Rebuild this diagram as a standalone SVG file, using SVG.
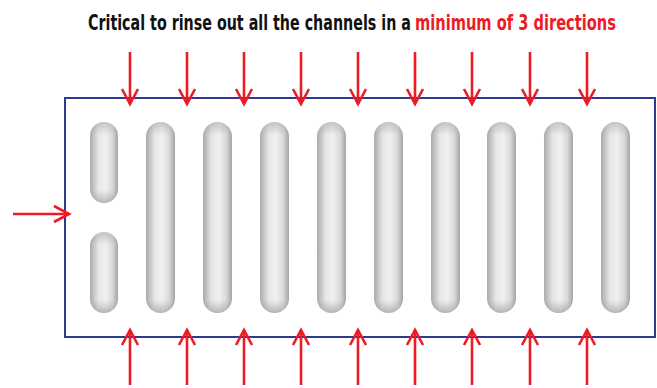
<svg xmlns="http://www.w3.org/2000/svg" width="657" height="388" viewBox="0 0 657 388">
<style>
.arr{stroke:#ed1c24;stroke-width:2.6;fill:none;marker-end:url(#ah)}
.ch{fill:url(#g)}
.vl{fill:url(#vl)}
.vs{fill:url(#vs)}
.t{font-family:"DejaVu Sans Condensed","Liberation Sans",sans-serif;font-weight:bold;font-size:21px}
</style>
<defs>
<linearGradient id="g" x1="0" y1="0" x2="1" y2="0">
<stop offset="0" stop-color="#a9aaac"/>
<stop offset="0.3" stop-color="#e6e6e6"/>
<stop offset="0.55" stop-color="#f1f1f1"/>
<stop offset="0.8" stop-color="#d9d9da"/>
<stop offset="1" stop-color="#a3a4a6"/>
</linearGradient>
<linearGradient id="vl" x1="0" y1="0" x2="0" y2="1">
<stop offset="0" stop-color="#9a9a9c" stop-opacity="0.5"/>
<stop offset="0.07" stop-color="#9a9a9c" stop-opacity="0"/>
<stop offset="0.93" stop-color="#9a9a9c" stop-opacity="0"/>
<stop offset="1" stop-color="#8e8e90" stop-opacity="0.6"/>
</linearGradient>
<linearGradient id="vs" x1="0" y1="0" x2="0" y2="1">
<stop offset="0" stop-color="#9a9a9c" stop-opacity="0.5"/>
<stop offset="0.16" stop-color="#9a9a9c" stop-opacity="0"/>
<stop offset="0.84" stop-color="#9a9a9c" stop-opacity="0"/>
<stop offset="1" stop-color="#8e8e90" stop-opacity="0.6"/>
</linearGradient>
<marker id="ah" markerUnits="userSpaceOnUse" markerWidth="20" markerHeight="20" viewBox="-16 -10 18 20" refX="0" refY="0" orient="auto">
<path d="M-15,-8 L0,0 L-15,8" fill="none" stroke="#ed1c24" stroke-width="2.6"/>
</marker>
</defs>
<g id="title">
<text class="t" transform="translate(88,30) scale(0.744,1)" x="0" y="0" fill="#111" textLength="434" lengthAdjust="spacingAndGlyphs">Critical to rinse out all the channels in a</text>
<text class="t" transform="translate(415,30) scale(0.776,1)" x="0" y="0" fill="#ed1c24" textLength="259" lengthAdjust="spacingAndGlyphs">minimum of 3 directions</text>
</g>
<g id="frame"><rect x="65" y="98" width="590" height="239" fill="#fff" stroke="#2e3a8f" stroke-width="2"/></g>
<g id="channels">
<rect class="ch" x="90" y="122" width="28" height="81" rx="14"/>
<rect class="vs" x="90" y="122" width="28" height="81" rx="14"/>
<rect class="ch" x="90" y="232" width="28" height="81" rx="14"/>
<rect class="vs" x="90" y="232" width="28" height="81" rx="14"/>
<rect class="ch" x="146" y="122" width="29" height="191" rx="14.5"/>
<rect class="ch" x="203" y="122" width="29" height="191" rx="14.5"/>
<rect class="ch" x="260" y="122" width="29" height="191" rx="14.5"/>
<rect class="ch" x="317" y="122" width="29" height="191" rx="14.5"/>
<rect class="ch" x="374" y="122" width="29" height="191" rx="14.5"/>
<rect class="ch" x="431" y="122" width="29" height="191" rx="14.5"/>
<rect class="ch" x="487" y="122" width="29" height="191" rx="14.5"/>
<rect class="ch" x="544" y="122" width="29" height="191" rx="14.5"/>
<rect class="ch" x="601" y="122" width="29" height="191" rx="14.5"/>
<rect class="vl" x="146" y="122" width="29" height="191" rx="14.5"/>
<rect class="vl" x="203" y="122" width="29" height="191" rx="14.5"/>
<rect class="vl" x="260" y="122" width="29" height="191" rx="14.5"/>
<rect class="vl" x="317" y="122" width="29" height="191" rx="14.5"/>
<rect class="vl" x="374" y="122" width="29" height="191" rx="14.5"/>
<rect class="vl" x="431" y="122" width="29" height="191" rx="14.5"/>
<rect class="vl" x="487" y="122" width="29" height="191" rx="14.5"/>
<rect class="vl" x="544" y="122" width="29" height="191" rx="14.5"/>
<rect class="vl" x="601" y="122" width="29" height="191" rx="14.5"/>
</g>
<g id="connectors">
<line class="arr" x1="130" y1="52" x2="130" y2="104"/>
<line class="arr" x1="187" y1="52" x2="187" y2="104"/>
<line class="arr" x1="244" y1="52" x2="244" y2="104"/>
<line class="arr" x1="301" y1="52" x2="301" y2="104"/>
<line class="arr" x1="358" y1="52" x2="358" y2="104"/>
<line class="arr" x1="415" y1="52" x2="415" y2="104"/>
<line class="arr" x1="472" y1="52" x2="472" y2="104"/>
<line class="arr" x1="530" y1="52" x2="530" y2="104"/>
<line class="arr" x1="587" y1="52" x2="587" y2="104"/>
<line class="arr" x1="130" y1="385" x2="130" y2="330"/>
<line class="arr" x1="187" y1="385" x2="187" y2="330"/>
<line class="arr" x1="244" y1="385" x2="244" y2="330"/>
<line class="arr" x1="301" y1="385" x2="301" y2="330"/>
<line class="arr" x1="358" y1="385" x2="358" y2="330"/>
<line class="arr" x1="415" y1="385" x2="415" y2="330"/>
<line class="arr" x1="472" y1="385" x2="472" y2="330"/>
<line class="arr" x1="530" y1="385" x2="530" y2="330"/>
<line class="arr" x1="587" y1="385" x2="587" y2="330"/>
<line class="arr" x1="13" y1="214" x2="69" y2="214"/>
</g>
</svg>
